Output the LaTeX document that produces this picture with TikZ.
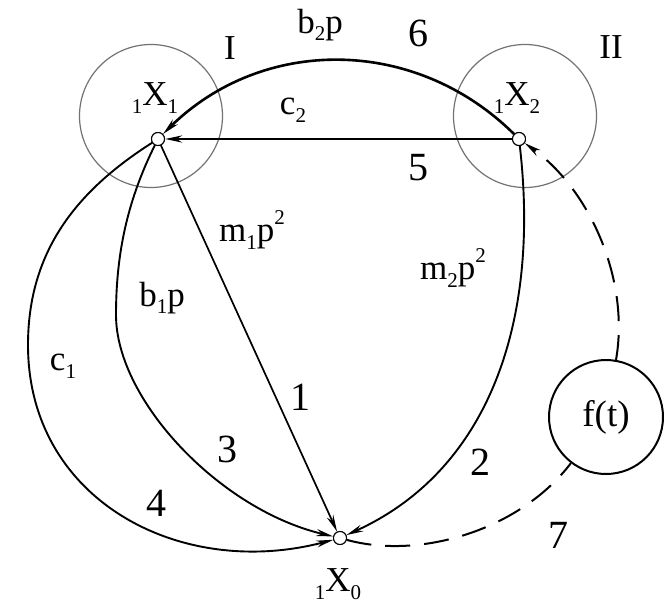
\documentclass[tikz,border=0pt]{standalone}
\usepackage{fontspec}
\setmainfont{Liberation Serif}
\usetikzlibrary{arrows.meta}
\newcommand\lo[1]{\raisebox{-0.22em}{\fontsize{21}{21}\selectfont #1}}
\newcommand\hi[1]{\raisebox{0.5em}{\fontsize{21}{21}\selectfont #1}}
\begin{document}
\begin{tikzpicture}[x=1pt,y=-1pt,
  pt/.style={circle,draw,fill=white,inner sep=0pt,minimum size=13pt,line width=1pt},
  lbl/.style={font=\fontsize{35}{40}\selectfont,inner sep=0pt},
  num/.style={font=\fontsize{40}{44}\selectfont,inner sep=0pt},
  grp/.style={circle,draw=black!55,line width=1.2pt,minimum size=143pt,inner sep=0pt},
  arr/.style={-{Stealth[length=17pt,width=7pt]}},
  heavy/.style={line width=2.6pt},
  medium/.style={line width=1.9pt},
  light/.style={line width=1.7pt},
  dashline/.style={line width=2pt,dash pattern=on 25pt off 14pt}]
\useasboundingbox (0,0) rectangle (666,607);
\fill[white] (0,0) rectangle (666,607);
% group circles
\node[grp] (g1) at (151,116) {};
\node[grp] (g2) at (525,116) {};
% points
\node[pt] (x1) at (158,139) {};
\node[pt] (x2) at (519,139) {};
\node[pt] (x0) at (340,538) {};
\node[circle,draw,line width=2pt,minimum size=114pt,inner sep=0pt,font=\fontsize{37}{40}\selectfont] (ft) at (606,417) {f(t)};
% intermediate coordinates
\coordinate (c3) at (116,315);
\coordinate (c4) at (28,345);
% edges
\draw[heavy,arr] (x2) .. controls (415,36) and (262,36) .. (x1);
\draw[heavy,arr] (x2) -- (x1);
\draw[light,arr] (x1) -- (x0);
\draw[medium,arr] (x1) .. controls (125,205) and (116,260) .. (c3) .. controls (116,400) and (220,510) .. (x0);
\draw[medium,arr] (x1) .. controls (78,190) and (28,250) .. (c4) .. controls (28,500) and (180,580) .. (x0);
\draw[medium,arr] (x2) .. controls (540,320) and (490,470) .. (x0);
\draw[dashline] (x0) .. controls (420,560) and (520,530) .. (ft);
\draw[dashline,arr] (ft) .. controls (630,280) and (590,190) .. (x2);
% redraw points on top
\node[pt] at (x1) {};
\node[pt] at (x2) {};
\node[pt] at (x0) {};
% labels
\node[lbl] (lx1) at (155,98) {\lo{1}X\lo{1}};
\node[lbl] (lx2) at (517,98) {\lo{1}X\lo{2}};
\node[lbl] (lx0) at (338,584) {\lo{1}X\lo{0}};
\node[lbl] (lI) at (230,48) {I};
\node[lbl] (lII) at (611,47) {II};
\node[lbl] (lb2) at (320,25) {b\lo{2}p};
\node[num] (l6) at (418,33) {6};
\node[lbl] (lc2) at (293,110) {c\lo{2}};
\node[num] (l5) at (418,168) {5};
\node[lbl] (lm1) at (252,230) {m\lo{1}p\hi{2}};
\node[lbl] (lm2) at (453,268) {m\lo{2}p\hi{2}};
\node[lbl] (lb1) at (162,298) {b\lo{1}p};
\node[lbl] (lc1) at (63,366) {c\lo{1}};
\node[num] (l1) at (300,397) {1};
\node[num] (l3) at (227,449) {3};
\node[num] (l2) at (480,462) {2};
\node[num] (l4) at (156,503) {4};
\node[num] (l7) at (558,535) {7};
\end{tikzpicture}
\end{document}
